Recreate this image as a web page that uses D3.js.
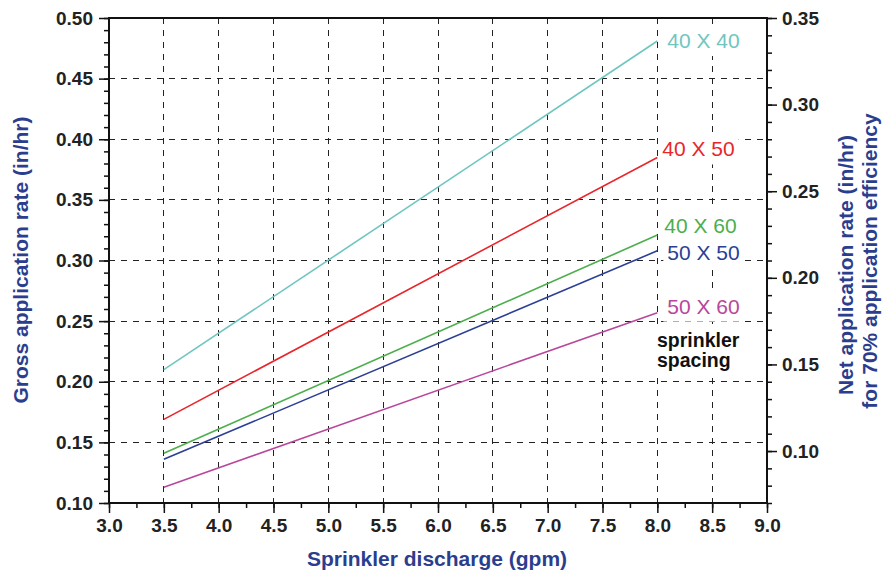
<!DOCTYPE html>
<html><head><meta charset="utf-8">
<script src="https://cdn.jsdelivr.net/npm/d3@7/dist/d3.min.js"></script>
<style>
body{margin:0;background:#fff}
text{font-family:"Liberation Sans",Arial,Helvetica,sans-serif}
</style>
</head><body>
<svg id="chart" width="889" height="577"></svg>
<script>
// ---- data ----
const discharge = [3.5, 8.0];
const spacings = ["40 X 40", "40 X 50", "40 X 60", "50 X 50", "50 X 60"];
const rate40x40 = [0.210, 0.481];
const rate40x50 = [0.169, 0.385];
const rate40x60 = [0.141, 0.321];
const rate50x50 = [0.136, 0.308];
const rate50x60 = [0.113, 0.257];
const seriesColors = ["#6fc6c1", "#e8262b", "#4cae4c", "#2b3f95", "#b8479c"];
const xTicks = [3.0, 3.5, 4.0, 4.5, 5.0, 5.5, 6.0, 6.5, 7.0, 7.5, 8.0, 8.5, 9.0];
const yTicks = [0.10, 0.15, 0.20, 0.25, 0.30, 0.35, 0.40, 0.45, 0.50];
const y2Ticks = [0.10, 0.15, 0.20, 0.25, 0.30, 0.35];
const seriesValues = [rate40x40, rate40x50, rate40x60, rate50x50, rate50x60];

// ---- layout ----
const L = 109, R = 767, T = 18, B = 503;
const labelOffsetX = [10, 5, 7, 10, 10];     // px right of line end
const labelOffsetY = [7, -1, -2, 9, 1];      // baseline px below line end
const svg = d3.select("#chart");
const x = d3.scaleLinear().domain([3.0, 9.0]).range([L, R]);
const y = d3.scaleLinear().domain([0.10, 0.50]).range([B, T]);
const y2 = d3.scaleLinear().domain([0.07, 0.35]).range([B, T]);
const titleColor = "#2b3e8e";

// grid
const grid = svg.append("g").attr("stroke", "#222").attr("stroke-width", 1)
  .attr("stroke-dasharray", "6,6").attr("shape-rendering", "crispEdges");
xTicks.filter(v => v > 3.0 && v < 9.0).forEach(v => {
  grid.append("line").attr("x1", x(v)).attr("x2", x(v)).attr("y1", T).attr("y2", B);
});
yTicks.filter(v => v > 0.10 && v < 0.50).forEach(v => {
  grid.append("line").attr("x1", L).attr("x2", R).attr("y1", y(v)).attr("y2", y(v));
});

// axes
function styleAxis(g) {
  g.select(".domain").remove();
  g.selectAll("line").attr("stroke", "#111").attr("stroke-width", 1.5);
  g.selectAll("text").attr("fill", "#222").style("font-size", "19px").style("font-weight", "bold");
}
const minorX = d3.range(25).map(i => 3.0 + i * 0.25);
const minorY = d3.range(41).map(i => 0.10 + i * 0.01);
const minorY2 = d3.range(29).map(i => 0.07 + i * 0.01);

svg.append("g").attr("transform", `translate(0,${B})`)
  .call(d3.axisBottom(x).tickValues(minorX).tickSize(5).tickFormat(""))
  .call(styleAxis);
svg.append("g").attr("transform", `translate(0,${B})`)
  .call(d3.axisBottom(x).tickValues(xTicks).tickSize(10).tickPadding(6).tickFormat(d3.format(".1f")))
  .call(styleAxis);

svg.append("g").attr("transform", `translate(${L},0)`)
  .call(d3.axisLeft(y).tickValues(minorY).tickSize(5).tickFormat(""))
  .call(styleAxis);
svg.append("g").attr("transform", `translate(${L},0)`)
  .call(d3.axisLeft(y).tickValues(yTicks).tickSize(10).tickPadding(6).tickFormat(d3.format(".2f")))
  .call(styleAxis);

svg.append("g").attr("transform", `translate(${R},0)`)
  .call(d3.axisRight(y2).tickValues(minorY2).tickSize(5).tickFormat(""))
  .call(styleAxis);
svg.append("g").attr("transform", `translate(${R},0)`)
  .call(d3.axisRight(y2).tickValues(y2Ticks).tickSize(10).tickPadding(5).tickFormat(d3.format(".2f")))
  .call(styleAxis);

// label backgrounds layer (above grid, below lines)
const bgLayer = svg.append("g");

// frame
svg.append("rect").attr("x", L).attr("y", T).attr("width", R - L).attr("height", B - T)
  .attr("fill", "none").attr("stroke", "#111").attr("stroke-width", 2);

// lines
const line = d3.line().x(d => x(d[0])).y(d => y(d[1]));
seriesValues.forEach((vals, i) => {
  svg.append("path").datum(discharge.map((d, j) => [d, vals[j]]))
    .attr("d", line).attr("fill", "none").attr("stroke", seriesColors[i]).attr("stroke-width", 1.6);
});

// series labels with white boxes
function boxed(sel, padL, padR, padT, padB) {
  const b = sel.node().getBBox();
  bgLayer.append("rect").attr("x", b.x - padL).attr("y", b.y - padT)
    .attr("width", b.width + padL + padR).attr("height", b.height + padT + padB).attr("fill", "#fff");
}
const lastIdx = discharge.length - 1;
spacings.forEach((s, i) => {
  const t = svg.append("text")
    .attr("x", x(discharge[lastIdx]) + labelOffsetX[i])
    .attr("y", y(seriesValues[i][lastIdx]) + labelOffsetY[i])
    .attr("fill", seriesColors[i]).style("font-size", "21px").text(s);
  boxed(t, 4, 4, 4, 4);
});
const s1 = svg.append("text").attr("x", 657).attr("y", 347).attr("fill", "#111")
  .style("font-size", "19.5px").style("font-weight", "bold").text("sprinkler");
const s2 = svg.append("text").attr("x", 657).attr("y", 367).attr("fill", "#111")
  .style("font-size", "19.5px").style("font-weight", "bold").text("spacing");
boxed(s1, 6, 4, 4, 0);
boxed(s2, 6, 4, 0, 4);

// titles
svg.append("text").attr("x", 437).attr("y", 566).attr("text-anchor", "middle")
  .attr("fill", titleColor).style("font-size", "21px").style("font-weight", "bold")
  .text("Sprinkler discharge (gpm)");
svg.append("text").attr("transform", "translate(28,260) rotate(-90)").attr("text-anchor", "middle")
  .attr("fill", titleColor).style("font-size", "21px").style("font-weight", "bold")
  .text("Gross application rate (in/hr)");
svg.append("text").attr("transform", "translate(853,265) rotate(-90)").attr("text-anchor", "middle")
  .attr("fill", titleColor).style("font-size", "21px").style("font-weight", "bold")
  .text("Net application rate (in/hr)");
svg.append("text").attr("transform", "translate(877,261) rotate(-90)").attr("text-anchor", "middle")
  .attr("fill", titleColor).style("font-size", "21px").style("font-weight", "bold")
  .text("for 70% application efficiency");
</script>
</body></html>
